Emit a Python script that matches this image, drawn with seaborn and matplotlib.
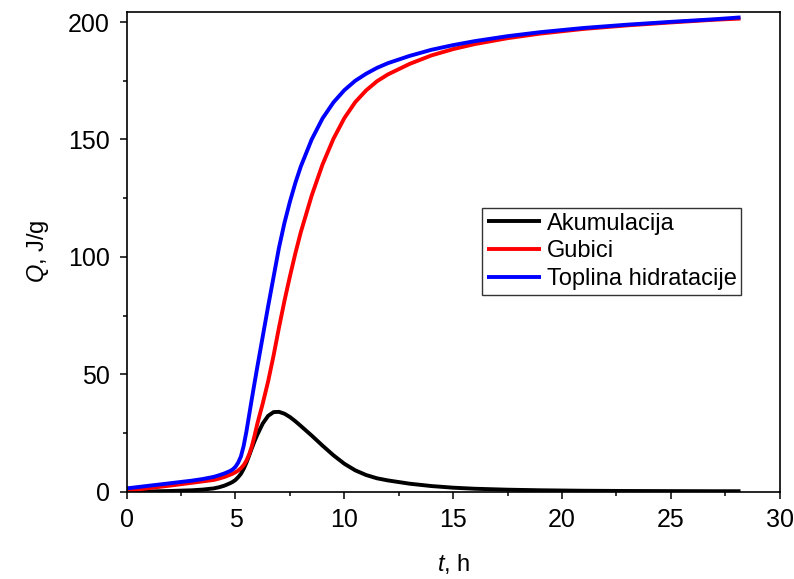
import numpy as np
import pandas as pd
import matplotlib
matplotlib.use("Agg")
import matplotlib.pyplot as plt
import seaborn as sns
from matplotlib.ticker import MultipleLocator

# ---- data ----
t_h = [0, 1, 2, 3, 3.5, 4, 4.25, 4.5, 4.75, 4.875, 5, 5.125, 5.25, 5.375, 5.5,
       5.625, 5.75, 5.875, 6, 6.25, 6.5, 6.75, 7, 7.25, 7.5, 7.75, 8, 8.5, 9,
       9.5, 10, 10.5, 11, 11.5, 12, 13, 14, 15, 16, 17.5, 19, 21, 23, 25, 27,
       28.2]

akumulacija = [0, 0.1, 0.3, 0.6, 0.9, 1.4, 1.9, 2.6, 3.6, 4.2, 5.0, 6.2, 7.6,
               9.7, 12.3, 15.3, 18.5, 21.5, 24.2, 29.0, 32.3, 33.9, 34.0, 33.2,
               31.8, 30.0, 28.0, 23.9, 19.6, 15.5, 11.9, 9.1, 7.1, 5.7, 4.8,
               3.4, 2.4, 1.7, 1.25, 0.85, 0.6, 0.4, 0.3, 0.25, 0.2, 0.2]

gubici = [0.3, 1.5, 2.6, 3.8, 4.4, 5.0, 5.6, 6.3, 7.2, 7.7, 8.3, 9.0, 10.0,
          11.3, 13.2, 15.8, 19.3, 23.8, 28.8, 37.5, 47.0, 58.0, 70.0, 81.3,
          91.7, 101.5, 110.5, 126.1, 139.4, 150.3, 159.1, 165.9, 170.9, 174.8,
          177.7, 182.2, 185.8, 188.5, 190.65, 193.15, 195.1, 197.1, 198.6,
          199.85, 201.0, 201.5]

toplina = [1.4, 2.5, 3.6, 4.7, 5.4, 6.3, 7.0, 7.8, 8.8, 9.5, 10.6, 12.4, 15.0,
           19.5, 25.5, 32.5, 39.5, 46.3, 53.0, 66.0, 79.0, 91.5, 104.0, 114.5,
           123.5, 131.5, 138.5, 150.0, 159.0, 165.8, 171.0, 175.0, 178.0,
           180.5, 182.5, 185.6, 188.2, 190.2, 191.9, 194.0, 195.7, 197.5,
           198.9, 200.1, 201.2, 202.0]

series_names = ["Akumulacija", "Gubici", "Toplina hidratacije"]
series_colors = ["#000000", "#ff0000", "#0000ff"]

x_ticks = [0, 5, 10, 15, 20, 25, 30]
y_ticks = [0, 50, 100, 150, 200]

# ---- build long-form table ----
df = pd.DataFrame({
    "t": t_h * 3,
    "Q": akumulacija + gubici + toplina,
    "serija": [series_names[0]] * len(t_h) + [series_names[1]] * len(t_h)
              + [series_names[2]] * len(t_h),
})

sns.set_theme(style="ticks")
plt.rcParams["font.family"] = ["Liberation Sans", "DejaVu Sans"]
plt.rcParams["mathtext.fontset"] = "custom"
plt.rcParams["mathtext.rm"] = "Liberation Sans"
plt.rcParams["mathtext.it"] = "Liberation Sans:italic"
plt.rcParams["text.color"] = "black"
plt.rcParams["axes.labelcolor"] = "black"
plt.rcParams["lines.solid_capstyle"] = "butt"
plt.rcParams["lines.solid_joinstyle"] = "round"

fig = plt.figure(figsize=(7.94, 5.79), dpi=100)
ax = fig.add_axes([0.1595, 0.1508, 0.8225, 0.8293])

sns.lineplot(data=df, x="t", y="Q", hue="serija", hue_order=series_names,
             palette=dict(zip(series_names, series_colors)), linewidth=2.8,
             ax=ax, legend=True)

ax.set_xlim(0, 30)
ax.set_ylim(0, 204.5)
ax.set_xticks(x_ticks)
ax.set_yticks(y_ticks)
ax.xaxis.set_minor_locator(MultipleLocator(2.5))
ax.yaxis.set_minor_locator(MultipleLocator(25))

ax.tick_params(axis="both", which="major", direction="out", length=5,
               width=1.1, labelsize=18, color="black", labelcolor="black",
               pad=7)
ax.tick_params(axis="both", which="minor", direction="out", length=3,
               width=1.1, color="black")
for sp in ax.spines.values():
    sp.set_visible(True)
    sp.set_linewidth(1.2)
    sp.set_color("black")

ax.set_xlabel("$\\it{t}$, h", fontsize=17)
ax.set_ylabel("$\\it{Q}$, J/g", fontsize=17)
ax.xaxis.labelpad = 14
ax.yaxis.labelpad = 12

leg = ax.legend(loc="upper left", bbox_to_anchor=(0.544, 0.591),
                borderaxespad=0, fontsize=17, frameon=True, fancybox=False,
                edgecolor="black", handlelength=2.3, handletextpad=0.25,
                labelspacing=0.24, borderpad=0.2)
leg.get_frame().set_linewidth(1.0)
for line in leg.get_lines():
    line.set_linewidth(2.8)

fig.savefig("out.png", dpi=100)
